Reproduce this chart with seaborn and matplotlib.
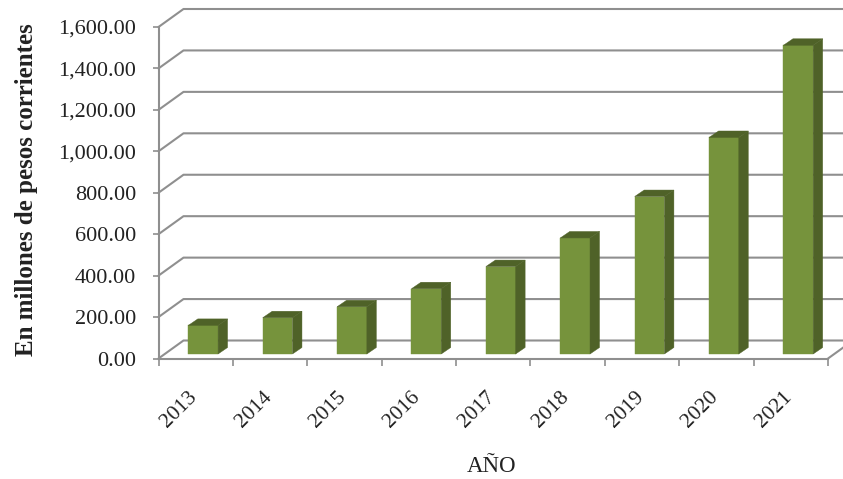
# Gráfico de barras con efecto 3D: millones de pesos corrientes por año

import matplotlib
matplotlib.use("Agg")
import matplotlib.pyplot as plt
import seaborn as sns
from matplotlib.patches import Polygon
from matplotlib.transforms import Affine2D, IdentityTransform

years = ["2013", "2014", "2015", "2016", "2017", "2018", "2019", "2020", "2021"]
values = [138, 175, 228, 315, 422, 560, 760, 1045, 1490]
y_ticks = [0, 200, 400, 600, 800, 1000, 1200, 1400, 1600]

GRAY = "#8f8f8f"
FRONT = "#76933c"
DARK = "#4f6228"
TEXT = "#222222"

sns.set_theme(style="white")
plt.rcParams["font.family"] = ["Liberation Serif", "DejaVu Serif"]

W, H = 843, 479
fig = plt.figure(figsize=(W / 100, H / 100), dpi=100)
# plano frontal de la caja 3D
ax = fig.add_axes([158.5 / W, 1 - 358.5 / H, 669.5 / W, 331.5 / H])

sns.barplot(x=years, y=values, ax=ax, color=FRONT, saturation=1, width=0.4, zorder=3,
            edgecolor=FRONT, linewidth=0.3)
ax.set_xlim(-0.5, len(years) - 0.5)
ax.set_ylim(0, 1600)

for s in ["top", "right"]:
    ax.spines[s].set_visible(False)
for s in ["left", "bottom"]:
    ax.spines[s].set_color(GRAY)
    ax.spines[s].set_linewidth(1.5)

# profundidad en pixeles
wall_dx, wall_dy = 25, 18
bar_dx, bar_dy = 7.5, 4.5
side_dx, side_dy = 9.5, 6.5

# paredes: lineas del fondo y diagonales
for v in y_ticks:
    x0, y0 = ax.transData.transform((-0.5, v))
    ax.plot([x0, x0 + wall_dx, W + 5], [y0, y0 + wall_dy, y0 + wall_dy],
            transform=IdentityTransform(), color=GRAY, lw=1.5, zorder=1, clip_on=False)
x1, y1 = ax.transData.transform((len(years) - 0.5, 0))
ax.plot([x1, x1 + wall_dx], [y1, y1 + wall_dy], transform=IdentityTransform(),
        color=GRAY, lw=1.5, zorder=1, clip_on=False)

# caras de cada barra, desplazadas al plano medio
shift = Affine2D().translate(bar_dx, bar_dy)
for bar in ax.patches:
    bar.set_transform(bar.get_data_transform() + shift)
    bar.set_clip_on(False)
    (xa, ya), (xb, yb) = ax.transData.transform(
        [(bar.get_x(), 0), (bar.get_x() + bar.get_width(), bar.get_height())]
    )
    xa, xb = xa + bar_dx, xb + bar_dx
    ya, yb = ya + bar_dy, yb + bar_dy
    side = [(xb, ya), (xb + side_dx, ya + side_dy), (xb + side_dx, yb + side_dy), (xb, yb)]
    top = [(xa, yb), (xa + side_dx, yb + side_dy), (xb + side_dx, yb + side_dy), (xb, yb)]
    for pts in (side, top):
        ax.add_patch(Polygon(pts, closed=True, transform=IdentityTransform(),
                             facecolor=DARK, edgecolor=DARK, lw=0.3, zorder=4, clip_on=False))

# ejes
ax.set_yticks(y_ticks, [f"{v:,.2f}" for v in y_ticks])
ax.tick_params(axis="y", left=True, length=4, width=1.2, color=GRAY, pad=12,
               labelsize=16, labelcolor=TEXT)

ax.set_xticks(range(len(years)), years, rotation=45, ha="right", rotation_mode="anchor")
ax.set_xticks([i - 0.5 for i in range(len(years) + 1)], minor=True)
ax.tick_params(axis="x", which="major", bottom=False, pad=15, labelsize=15.5, labelcolor=TEXT)
ax.tick_params(axis="x", which="minor", bottom=True, length=5, width=1.2, color=GRAY)
for lab in ax.get_xticklabels():
    lab.set_transform(lab.get_transform() + Affine2D().translate(-8, 0))

fig.text(27 / W, 1 - 190 / H, "En millones de pesos corrientes", rotation=90,
         ha="center", va="center", fontsize=18, fontweight="bold", color=TEXT)
fig.text(492 / W, 1 - 467 / H, "AÑO", ha="center", va="center", fontsize=16.5, color=TEXT)

fig.savefig("out.png", dpi=100)
